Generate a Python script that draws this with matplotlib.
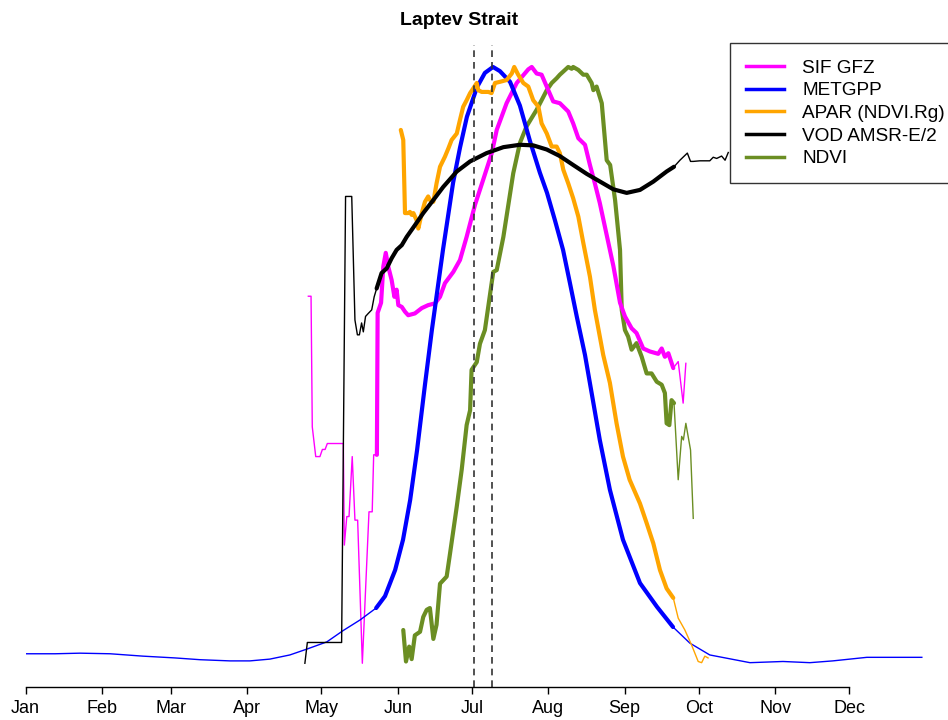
import matplotlib
matplotlib.use("Agg")
import matplotlib.pyplot as plt
import numpy as np

plt.rcParams['font.family'] = ['Liberation Sans', 'DejaVu Sans']

# day of year / normalised value (peak = 1)
blue_doy = [1, 13.0, 23.1, 35.3, 48.6, 61.6, 71.8, 83.9, 92.0, 100.1, 108.2, 115.2, 123.2, 129.8, 136.7,
            143.2, 146.8, 150.9, 154.1, 157.0, 159.8, 163.0, 165.8, 170.3, 174.4, 177.2, 180.0, 184.1, 187.3,
            190.6, 193.4, 197.5, 201.5, 205.6, 209.6, 212.5, 215.7, 219.0, 221.8, 224.6, 227.9, 231.1, 233.9,
            238.0, 243.3, 250.2, 257.1, 263.6, 270.4, 278.5, 294.8, 308.2, 319.1, 328.4, 342.2, 364.5]
blue_val = [0.012, 0.012, 0.013, 0.012, 0.008, 0.005, 0.002, 0.0, 0.0, 0.003, 0.010, 0.020, 0.032, 0.051, 0.069,
            0.089, 0.109, 0.153, 0.204, 0.271, 0.355, 0.465, 0.557, 0.692, 0.805, 0.864, 0.916, 0.966, 0.990,
            1.0, 0.993, 0.975, 0.935, 0.875, 0.822, 0.788, 0.742, 0.692, 0.636, 0.579, 0.515, 0.439, 0.372,
            0.288, 0.204, 0.131, 0.091, 0.057, 0.030, 0.010, -0.003, -0.001, -0.003, 0.0, 0.006, 0.006]

sif_doy = [115.7, 116.8, 117.3, 118.7, 120.4, 121.4, 122.5, 123.4, 129.9, 130.3, 131.3, 132.2, 133.5, 134.6,
           135.7, 137.6, 140.3, 141.6, 142.2, 143.4,
           143.5, 143.8, 145.2, 146.1, 147.1, 148.1, 149.5, 150.6, 151.5, 152.2, 153.6, 154.9, 156.2, 158.9,
           161.7, 164.3, 167.1, 169.1, 171.1, 174.5, 177.2, 179.9, 183.3, 186.6, 190.1, 192.1, 196.1, 200.2,
           204.9, 206.3, 208.3, 210.3, 213.0, 215.0, 217.7, 221.1, 223.1, 225.2, 227.9, 229.9, 231.9, 233.9,
           236.7, 239.4, 242.1, 244.1, 246.8, 248.8, 251.5, 254.2, 257.6, 259.0, 260.3, 261.7, 263.7,
           265.7, 267.7, 268.8]
sif_val = [0.614, 0.614, 0.394, 0.344, 0.344, 0.356, 0.356, 0.366, 0.366, 0.195, 0.243, 0.243, 0.344, 0.237,
           0.237, -0.004, 0.251, 0.251, 0.347, 0.347,
           0.347, 0.586, 0.603, 0.664, 0.687, 0.664, 0.641, 0.613, 0.625, 0.599, 0.596, 0.588, 0.582, 0.585,
           0.594, 0.599, 0.602, 0.613, 0.636, 0.655, 0.675, 0.714, 0.768, 0.810, 0.855, 0.894, 0.939, 0.973,
           0.996, 1.0, 0.989, 0.987, 0.961, 0.942, 0.939, 0.925, 0.905, 0.880, 0.869, 0.835, 0.804, 0.771,
           0.717, 0.665, 0.603, 0.580, 0.560, 0.552, 0.526, 0.521, 0.517, 0.526, 0.512, 0.518, 0.493,
           0.504, 0.434, 0.501]

apar_doy = [153.2, 154.2, 154.9, 156.2, 156.9, 157.6, 158.3, 159.6, 160.3, 161.7, 163.0, 164.3, 165.0, 166.4,
            167.7, 169.1, 171.1, 172.5, 173.8, 175.9, 177.2, 178.5, 179.9, 181.3, 182.6, 184.0, 184.6, 186.0,
            187.3, 188.7, 190.0, 191.4, 193.4, 196.1, 198.2, 199.2, 200.8, 202.9, 204.9, 206.9, 209.0, 210.3,
            212.4, 214.4, 216.4, 217.7, 219.1, 221.1, 223.1, 225.2, 227.2, 229.9, 231.9, 235.3, 238.0, 240.7,
            243.3, 246.0, 250.2, 252.9, 255.6, 258.3, 261.0, 263.7,
            265.7, 268.4, 271.1, 273.8, 275.2, 276.5, 277.8]
apar_val = [0.894, 0.877, 0.754, 0.754, 0.756, 0.751, 0.754, 0.742, 0.728, 0.754, 0.773, 0.782, 0.776, 0.773,
            0.804, 0.832, 0.849, 0.863, 0.877, 0.888, 0.911, 0.933, 0.944, 0.956, 0.964, 0.973, 0.961, 0.958,
            0.958, 0.958, 0.956, 0.973, 0.975, 0.978, 0.989, 1.0, 0.987, 0.973, 0.967, 0.944, 0.933, 0.905,
            0.888, 0.866, 0.866, 0.855, 0.827, 0.804, 0.779, 0.748, 0.704, 0.647, 0.591, 0.515, 0.468, 0.400,
            0.344, 0.305, 0.265, 0.232, 0.198, 0.153, 0.122, 0.106,
            0.072, 0.052, 0.027, -0.001, -0.003, 0.008, 0.005]

vod_doy = [114.3, 115.3, 129.2, 130.8, 133.3, 134.6, 135.6, 136.4, 137.3, 138.0, 138.9, 140.0, 141.4, 142.4,
           143.4, 145.4, 147.5, 149.5, 151.5, 153.6, 155.6, 159.0, 162.3, 166.4, 170.4, 175.9, 181.3, 188.0,
           194.8, 201.5, 206.9, 212.4, 217.7, 223.1, 228.6, 234.0, 239.4, 244.8, 250.2, 255.6, 261.0, 264.0,
           266.4, 269.4, 270.7, 271.8, 274.5, 278.5, 279.9, 281.3, 283.3, 284.7, 286.0]
vod_val = [-0.004, 0.031, 0.031, 0.782, 0.782, 0.574, 0.549, 0.549, 0.569, 0.554, 0.580, 0.585, 0.591, 0.613,
           0.627, 0.653, 0.661, 0.678, 0.692, 0.700, 0.714, 0.734, 0.754, 0.776, 0.798, 0.824, 0.841, 0.855,
           0.865, 0.869, 0.868, 0.861, 0.850, 0.835, 0.820, 0.807, 0.794, 0.788, 0.793, 0.807, 0.824, 0.832,
           0.843, 0.855, 0.841, 0.841, 0.842, 0.842, 0.848, 0.846, 0.850, 0.843, 0.856]

ndvi_doy = [154.2, 155.3, 156.6, 157.6, 158.9, 161.0, 162.3, 163.7, 165.0, 166.4, 167.7, 169.1, 171.8, 173.1,
            175.9, 177.9, 179.9, 181.3, 181.9, 184.0, 185.3, 187.3, 190.7, 192.1, 194.8, 198.8, 201.5, 204.2,
            208.3, 210.3, 212.4, 214.4, 216.4, 217.7, 219.8, 221.1, 222.5, 223.1, 225.2, 227.2, 228.6, 230.6,
            231.3, 232.6, 234.7, 236.7, 238.1, 240.1, 242.1, 242.8, 244.1, 245.4, 246.8, 248.8, 250.9, 252.9,
            254.9, 257.0, 259.0, 260.3, 261.0, 262.1, 263.0, 264.0,
            265.7, 267.1, 267.8, 268.8, 270.7, 271.8]
ndvi_val = [0.052, -0.001, 0.024, 0.003, 0.043, 0.049, 0.074, 0.086, 0.089, 0.037, 0.061, 0.130, 0.142, 0.179,
            0.260, 0.322, 0.397, 0.422, 0.490, 0.503, 0.534, 0.557, 0.655, 0.658, 0.714, 0.821, 0.872, 0.900,
            0.928, 0.944, 0.961, 0.973, 0.981, 0.987, 0.995, 1.0, 0.997, 1.0, 0.995, 0.987, 0.987, 0.973,
            0.961, 0.967, 0.939, 0.843, 0.835, 0.776, 0.692, 0.591, 0.557, 0.546, 0.524, 0.535, 0.512, 0.484,
            0.484, 0.470, 0.465, 0.451, 0.400, 0.397, 0.439, 0.434,
            0.305, 0.378, 0.372, 0.400, 0.355, 0.240]

season = (143.2, 264.0)      # growing season, drawn thick
marker_days = [183, 190]     # dashed reference days

month_starts = [1, 32, 60, 91, 121, 152, 182, 213, 244, 274, 305, 335]
month_labels = ['Jan', 'Feb', 'Mar', 'Apr', 'May', 'Jun', 'Jul', 'Aug', 'Sep', 'Oct', 'Nov', 'Dec']

series = {
    'SIF GFZ': (sif_doy, sif_val, '#FF00FF'),
    'METGPP': (blue_doy, blue_val, '#0000FF'),
    'APAR (NDVI.Rg)': (apar_doy, apar_val, '#FFA500'),
    'VOD AMSR-E/2': (vod_doy, vod_val, '#000000'),
    'NDVI': (ndvi_doy, ndvi_val, '#6B8E23'),
}
draw_order = ['NDVI', 'SIF GFZ', 'METGPP', 'APAR (NDVI.Rg)', 'VOD AMSR-E/2']

fig = plt.figure(figsize=(9.48, 7.2), dpi=100)
ax = fig.add_axes([0.0269, 0.0458, 0.9468, 0.8917])

for name in draw_order:
    d, v, c = series[name]
    d = np.array(d)
    v = np.array(v)
    ax.plot(d, v, color=c, lw=1.0, solid_joinstyle='round')
    m = (d >= season[0]) & (d <= season[1])
    ax.plot(d[m], v[m], color=c, lw=3.0, solid_joinstyle='round', solid_capstyle='round')

for day in marker_days:
    ax.axvline(day, color='#333333', lw=1.2, ls=(0, (4, 3)))

ax.set_xlim(1, 365)
ax.set_ylim(-0.044, 1.037)
for s in ['left', 'top', 'right']:
    ax.spines[s].set_visible(False)
ax.spines['bottom'].set_bounds(month_starts[0], month_starts[-1])
ax.spines['bottom'].set_linewidth(1.0)
ax.set_yticks([])
ax.set_xticks(month_starts)
ax.set_xticklabels(month_labels)
ax.tick_params(axis='x', length=5, width=1.0, labelsize=13, pad=4)

fig.text(0.484, 0.972, 'Laptev Strait', ha='center', va='center', fontsize=14, fontweight='bold')

handles = [plt.Line2D([], [], color=series[n][2], lw=2.5) for n in series]
leg = fig.legend(handles, list(series.keys()), loc='upper left', bbox_to_anchor=(0.770, 0.940),
                 bbox_transform=fig.transFigure, fontsize=13.7, frameon=True, fancybox=False,
                 framealpha=1, edgecolor='#333333', handlelength=2.0, handletextpad=0.95,
                 labelspacing=0.28, borderpad=0.85, borderaxespad=0)
leg.get_frame().set_linewidth(1.0)

fig.savefig('out.png', dpi=100)
